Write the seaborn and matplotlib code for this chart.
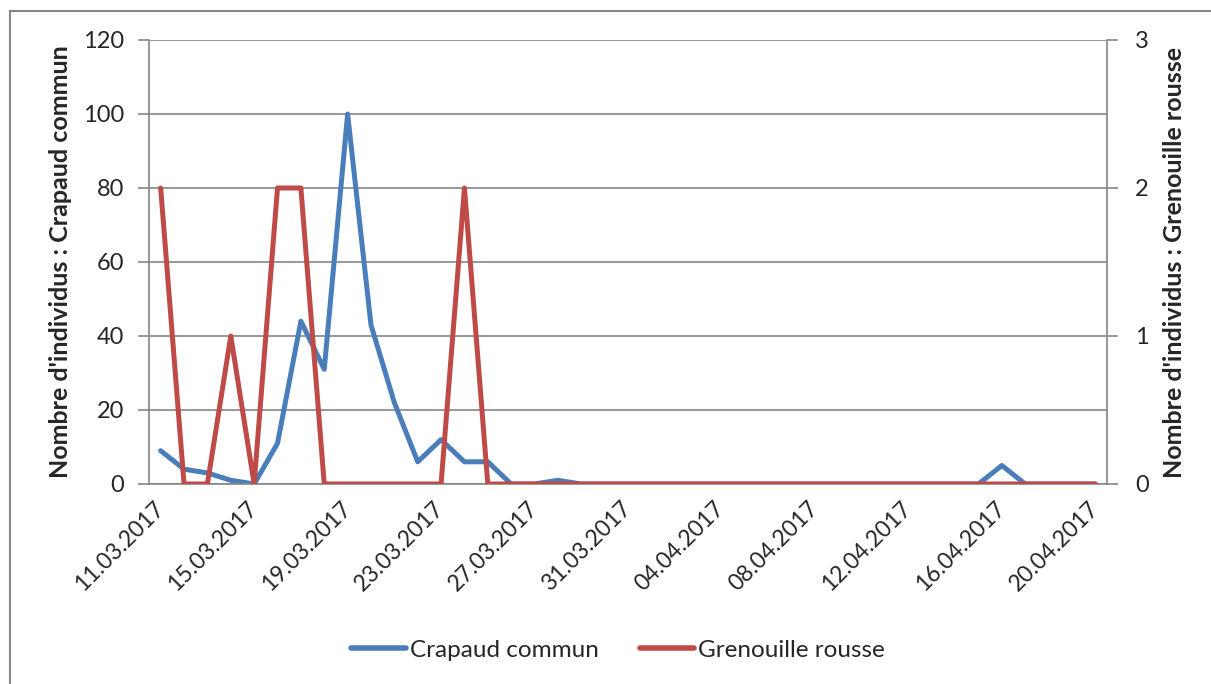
import matplotlib
matplotlib.use("Agg")
import matplotlib.pyplot as plt
import matplotlib.patches as mpatches
from matplotlib.lines import Line2D
import seaborn as sns
import pandas as pd
import numpy as np

# ---- data ----
dates = pd.date_range("2017-03-11", "2017-04-20", freq="D")
crapaud = [9, 4, 3, 1, 0, 11, 44, 31, 100, 43, 22, 6, 12, 6, 6, 0, 0, 1, 0, 0,
           0, 0, 0, 0, 0, 0, 0, 0, 0, 0, 0, 0, 0, 0, 0, 0, 5, 0, 0, 0, 0]
grenouille = [2, 0, 0, 1, 0, 2, 2, 0, 0, 0, 0, 0, 0, 2, 0, 0, 0, 0, 0, 0,
              0, 0, 0, 0, 0, 0, 0, 0, 0, 0, 0, 0, 0, 0, 0, 0, 0, 0, 0, 0, 0]
tick_labels = ["11.03.2017", "15.03.2017", "19.03.2017", "23.03.2017", "27.03.2017",
               "31.03.2017", "04.04.2017", "08.04.2017", "12.04.2017", "16.04.2017",
               "20.04.2017"]
left_ticks = [0, 20, 40, 60, 80, 100, 120]
right_ticks = [0, 1, 2, 3]
series_names = ["Crapaud commun", "Grenouille rousse"]
ylabel_left = "Nombre d'individus : Crapaud commun"
ylabel_right = "Nombre d'individus : Grenouille rousse"

df = pd.DataFrame({"day": np.arange(len(dates)), "crapaud": crapaud, "grenouille": grenouille})

sns.set_style("white")
plt.rcParams["font.family"] = ["Lato", "DejaVu Sans"]

BLUE = "#4A7EBB"
RED = "#BE4B48"
GRID = "#868686"

fig = plt.figure(figsize=(12.11, 6.84), dpi=100)
ax = fig.add_axes([149 / 1211, 1 - 484 / 684, (1107 - 149) / 1211, (484 - 40) / 684])
ax2 = ax.twinx()

sns.lineplot(data=df, x="day", y="crapaud", ax=ax, color=BLUE, lw=3.6, legend=False)
sns.lineplot(data=df, x="day", y="grenouille", ax=ax2, color=RED, lw=3.6, legend=False)

n = len(dates)
ax.set_xlim(-0.5, n - 0.5)
ax.set_ylim(0, 120)
ax2.set_ylim(0, 3)

ax.set_yticks(left_ticks)
ax2.set_yticks(right_ticks)
ax.yaxis.grid(True, color=GRID, lw=1.2)
ax.set_axisbelow(True)

major = np.arange(0, n, 4)
ax.set_xticks(major)
ax.set_xticklabels(tick_labels, rotation=45, ha="right", va="center",
                   rotation_mode="anchor")
ax.set_xticks(np.arange(-0.5, n, 4), minor=True)
ax.tick_params(axis="x", which="major", length=0, pad=15, labelsize=16.5)
ax.tick_params(axis="x", which="minor", length=6, width=1.2, color=GRID, direction="out")
ax.tick_params(axis="y", length=8, width=1.2, color=GRID, direction="out", labelsize=17, pad=10)
ax2.tick_params(axis="y", length=8, width=1.2, color=GRID, direction="out", labelsize=17, pad=12)

for a in (ax, ax2):
    a.spines["top"].set_visible(False)
    for s in ["left", "right", "bottom"]:
        a.spines[s].set_color(GRID)
        a.spines[s].set_linewidth(1.2)
ax2.spines["left"].set_visible(False)
ax2.spines["bottom"].set_visible(False)
ax.spines["right"].set_visible(False)

ax.set_xlabel("")
ax.set_ylabel(ylabel_left, fontsize=18, fontweight="bold", labelpad=8)
ax2.set_ylabel(ylabel_right, fontsize=18, fontweight="bold", labelpad=10, rotation=90)

handles = [Line2D([0], [0], color=BLUE, lw=4), Line2D([0], [0], color=RED, lw=4)]
fig.legend(handles, series_names, loc="center", bbox_to_anchor=(618 / 1211, 1 - 650 / 684),
           ncol=2, frameon=False, fontsize=17.5, handlelength=2.25, handletextpad=0.15,
           columnspacing=1.7)

border = mpatches.Rectangle((10 / 1211, -0.1), 1.2, 0.1 + (1 - 11 / 684), transform=fig.transFigure,
                            fill=False, edgecolor=GRID, lw=1.5)
fig.patches.append(border)

fig.savefig("out.png", dpi=100)
